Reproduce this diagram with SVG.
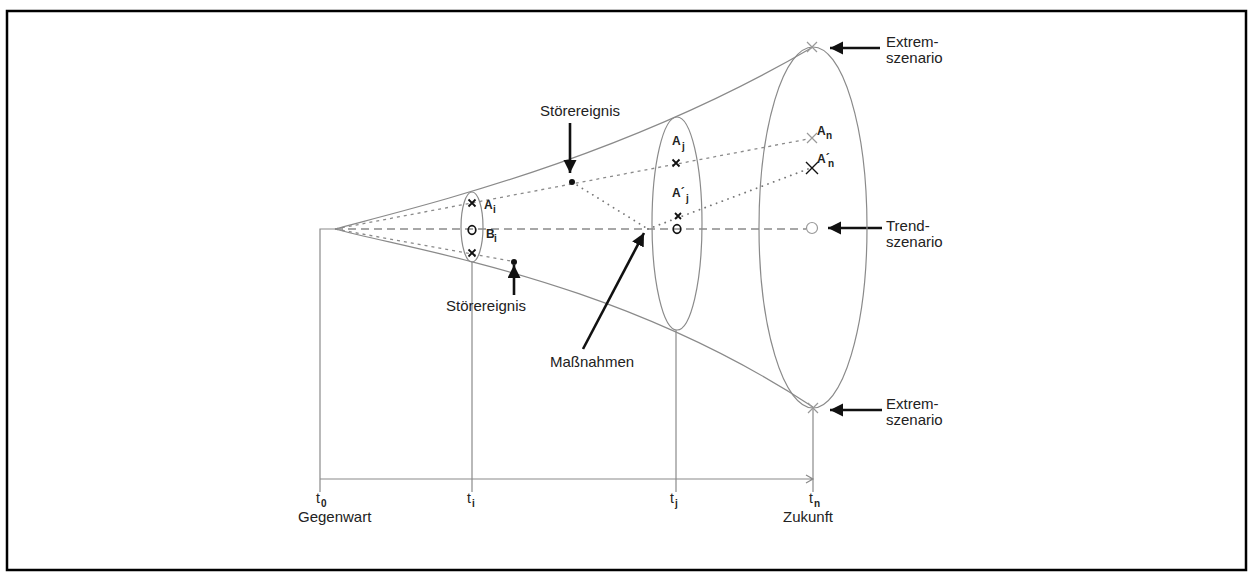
<svg xmlns="http://www.w3.org/2000/svg" width="1253" height="577" viewBox="0 0 1253 577">
<defs>
<style>
.ln{fill:none;stroke:#8a8a8a;stroke-width:1.2}
.dash{fill:none;stroke:#8a8a8a;stroke-width:1.3;stroke-dasharray:8 5}
.sdash{fill:none;stroke:#8a8a8a;stroke-width:1.3;stroke-dasharray:3 4}
.dot{fill:none;stroke:#777;stroke-width:1.8;stroke-dasharray:0.1 6;stroke-linecap:round}
.arr{fill:none;stroke:#111;stroke-width:2.6;marker-end:url(#ah)}
.lbl{font-family:"Liberation Sans",Arial,sans-serif;font-size:15px;fill:#222}
.sm{font-family:"Liberation Sans",Arial,sans-serif;font-size:12px;font-weight:bold;fill:#222}
.sub{font-family:"Liberation Sans",Arial,sans-serif;font-size:10px;font-weight:bold;fill:#222}
.tl{font-family:"Liberation Sans",Arial,sans-serif;font-size:14px;fill:#222}
.ts{font-family:"Liberation Sans",Arial,sans-serif;font-size:10px;font-weight:bold;fill:#222}
.xb{fill:none;stroke:#111;stroke-width:1.8}
.xg{fill:none;stroke:#999;stroke-width:1.2}
</style>
<marker id="ah" markerUnits="userSpaceOnUse" markerWidth="14" markerHeight="14" refX="13" refY="6.5" orient="auto">
<path d="M0,0 L13,6.5 L0,13 Z" fill="#111"/>
</marker>
</defs>
<rect x="7" y="11" width="1239" height="559" fill="none" stroke="#000" stroke-width="2.5"/>
<g id="connectors">
<path class="ln" d="M335,229 C420,206 620,160 813,47"/>
<path class="ln" d="M335,229 C420,252 620,280 813,407"/>
<path class="ln" d="M320,492 L320,229 L335,229"/>
<path class="ln" d="M472,262 L472,492"/>
<path class="ln" d="M676,330 L676,492"/>
<path class="ln" d="M813,408 L813,492"/>
<path class="ln" d="M320,479 L813,479 M806,475 L813,479 L806,483"/>
<path class="dash" d="M335,229 L806,229"/>
<path class="sdash" d="M335,229 L808,139"/>
<path class="sdash" d="M335,229 L511,261"/>
<path class="dot" d="M572,182 L648,229"/>
<path class="dot" d="M648,229 L808,169"/>
<path class="arr" d="M880,48 L830,48"/>
<path class="arr" d="M882,228 L828,228"/>
<path class="arr" d="M882,410 L830,410"/>
<path class="arr" d="M570,123 L570,173"/>
<path class="arr" d="M514,295 L514,265"/>
<path class="arr" d="M583,349 L644,233"/>
</g>
<g id="ellipse-i">
<ellipse class="ln" cx="472" cy="227" rx="11" ry="35"/>
<path class="xb" d="M468.5,199.5 L475.5,206.5 M475.5,199.5 L468.5,206.5"/>
<ellipse cx="472" cy="230" rx="3.8" ry="4.3" fill="none" stroke="#111" stroke-width="1.7"/>
<path class="xb" d="M468.5,249.5 L475.5,256.5 M475.5,249.5 L468.5,256.5"/>
<text class="sm" x="484" y="209">A</text><text class="sub" x="493" y="213">i</text>
<text class="sm" x="486" y="238">B</text><text class="sub" x="494" y="242">i</text>
</g>
<g id="ellipse-j">
<ellipse class="ln" cx="677" cy="223.5" rx="25" ry="106.5"/>
<text class="sm" x="672" y="145">A</text><text class="sub" x="682" y="150">j</text>
<path class="xb" d="M672.5,159.5 L679.5,166.5 M679.5,159.5 L672.5,166.5"/>
<text class="sm" x="672" y="197">A´</text><text class="sub" x="686" y="202">j</text>
<path class="xb" d="M675,213 L681,219 M681,213 L675,219"/>
<ellipse cx="677" cy="229" rx="3.8" ry="4.3" fill="none" stroke="#111" stroke-width="1.7"/>
</g>
<g id="ellipse-n">
<ellipse class="ln" cx="813" cy="227.5" rx="54" ry="180.5"/>
<path class="xg" d="M807,42 L817,52 M817,42 L807,52"/>
<path class="xg" d="M807,133 L817,143 M817,133 L807,143"/>
<text class="sm" x="817" y="135">A</text><text class="sub" x="826" y="139">n</text>
<path class="xb" style="stroke-width:1.4" d="M806,162 L818,174 M818,162 L806,174"/>
<text class="sm" x="817" y="163">A´</text><text class="sub" x="828" y="167">n</text>
<circle cx="812" cy="228" r="5.5" fill="#fff" stroke="#999" stroke-width="1.2"/>
<path class="xg" d="M808,403 L818,413 M818,403 L808,413"/>
</g>
<g id="dots">
<circle cx="572" cy="182" r="3" fill="#111"/>
<circle cx="514" cy="262" r="3" fill="#111"/>
</g>
<g id="labels">
<text class="lbl" x="886" y="47">Extrem-</text><text class="lbl" x="886" y="63">szenario</text>
<text class="lbl" x="886" y="231">Trend-</text><text class="lbl" x="886" y="247">szenario</text>
<text class="lbl" x="886" y="409">Extrem-</text><text class="lbl" x="886" y="425">szenario</text>
<text class="lbl" x="580" y="116" text-anchor="middle">Störereignis</text>
<text class="lbl" x="486" y="311" text-anchor="middle">Störereignis</text>
<text class="lbl" x="592" y="367" text-anchor="middle">Maßnahmen</text>
</g>
<g id="axis-labels">
<text class="tl" x="316" y="503">t</text><text class="ts" x="321" y="507">0</text>
<text class="lbl" x="298" y="522">Gegenwart</text>
<text class="tl" x="467" y="503">t</text><text class="ts" x="472" y="507">i</text>
<text class="tl" x="670" y="503">t</text><text class="ts" x="675" y="507">j</text>
<text class="tl" x="809" y="503">t</text><text class="ts" x="814" y="507">n</text>
<text class="lbl" x="783" y="522">Zukunft</text>
</g>
</svg>
